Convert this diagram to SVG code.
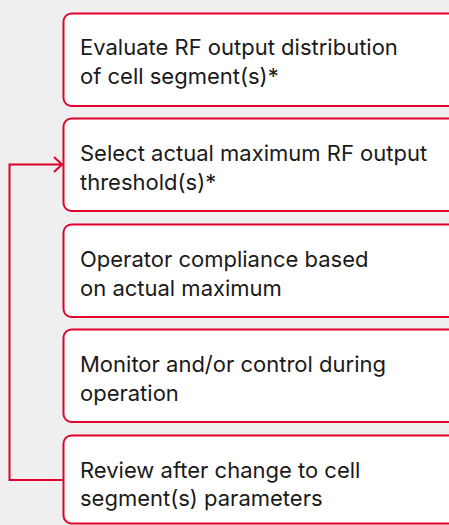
<svg xmlns="http://www.w3.org/2000/svg" width="449" height="525" viewBox="0 0 449 525">
<style>
.bg{fill:#efefef}
.box{fill:#ffffff;stroke:#e4002b;stroke-width:2}
.t{font-family:Inter,"Noto Sans",sans-serif;font-size:22px;fill:#1a1a1a}
.c{fill:none;stroke:#e4002b;stroke-width:2}
</style>
<rect class="bg" x="0" y="0" width="449" height="525"/>
<g id="n1"><rect class="box" x="63.5" y="13.5" width="394" height="92.5" rx="8"/>
<text class="t" x="80" y="55">Evaluate RF output distribution</text>
<text class="t" x="80" y="84">of cell segment(s)*</text></g>
<g id="n2"><rect class="box" x="63.5" y="118.5" width="394" height="92.5" rx="8"/>
<text class="t" x="80" y="161">Select actual maximum RF output</text>
<text class="t" x="80" y="190">threshold(s)*</text></g>
<g id="n3"><rect class="box" x="63.5" y="224.5" width="394" height="92.5" rx="8"/>
<text class="t" x="80" y="267">Operator compliance based</text>
<text class="t" x="80" y="296">on actual maximum</text></g>
<g id="n4"><rect class="box" x="63.5" y="329.5" width="394" height="92.5" rx="8"/>
<text class="t" x="80" y="372">Monitor and/or control during</text>
<text class="t" x="80" y="401">operation</text></g>
<g id="n5"><rect class="box" x="63.5" y="435.5" width="394" height="88" rx="8"/>
<text class="t" x="80" y="478">Review after change to cell</text>
<text class="t" x="80" y="506">segment(s) parameters</text></g>
<g id="connectors">
<polyline class="c" points="63,480 9.5,480 9.5,164.5 62,164.5"/>
<polyline class="c" points="54,157 62,164.5 54,172"/>
</g>
</svg>
